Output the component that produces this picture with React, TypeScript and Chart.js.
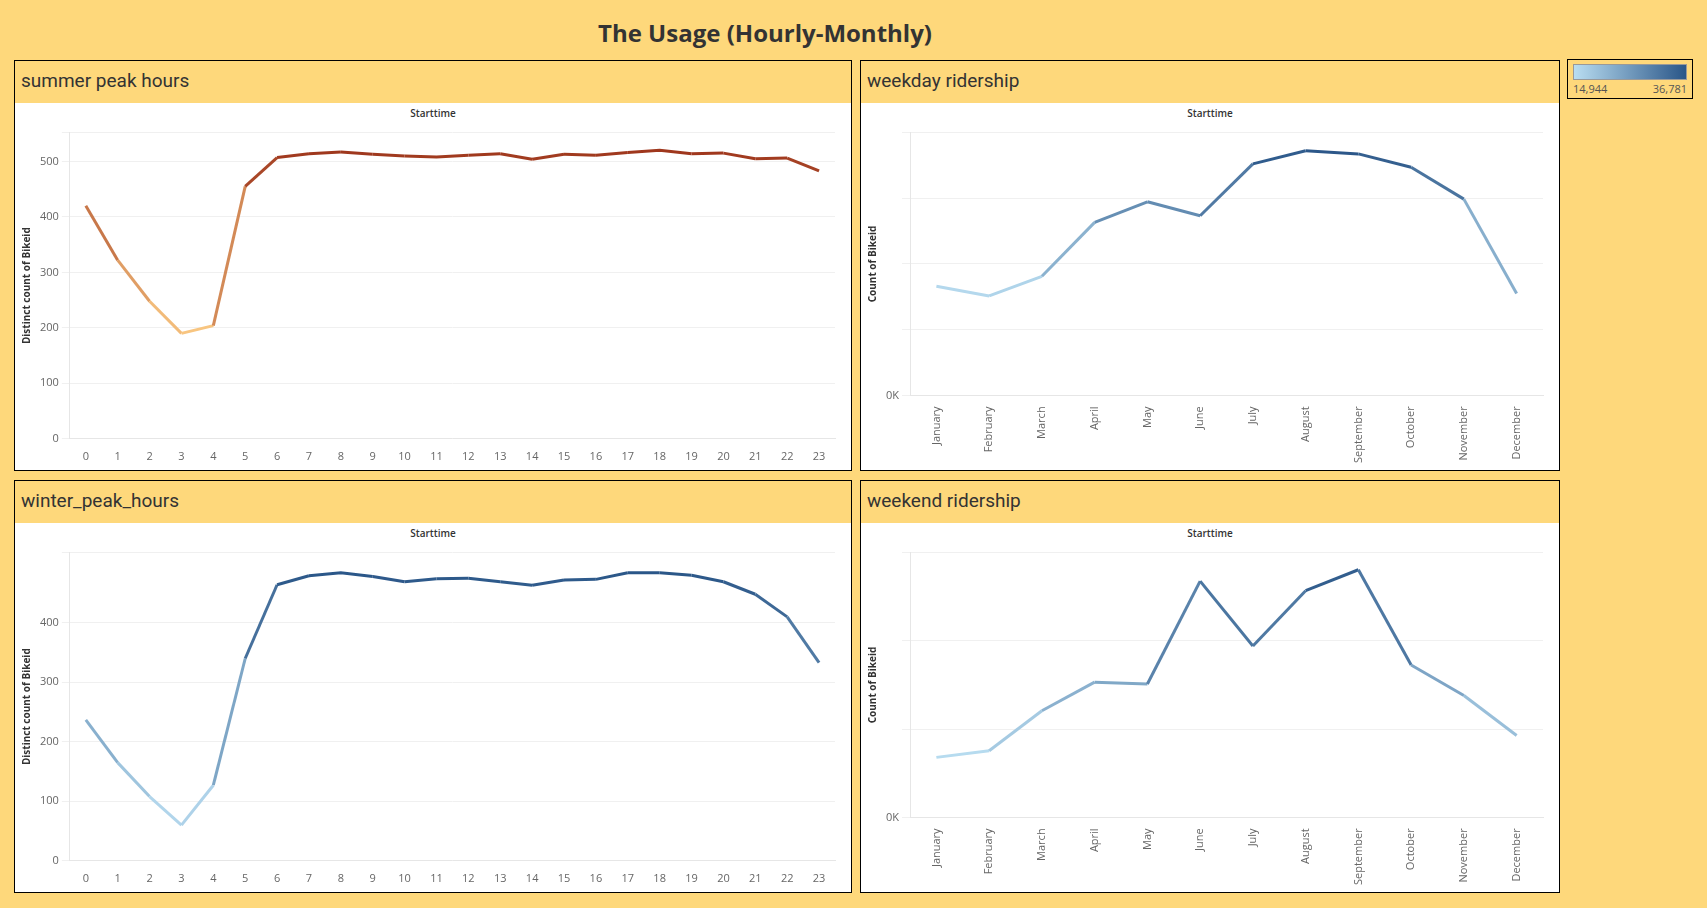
import React, { useEffect, useRef } from "react";
import Chart from "chart.js/auto";

const hours = Array.from({ length: 24 }, (_, i) => String(i));
const months = ["January", "February", "March", "April", "May", "June", "July", "August", "September", "October", "November", "December"];

const summerValues = [420, 322, 248, 190, 204, 455, 507, 514, 517, 513, 510, 508, 511, 514, 504, 513, 511, 516, 520, 514, 515, 505, 506, 483];
const winterValues = [237, 165, 108, 60, 127, 340, 464, 479, 484, 478, 469, 474, 475, 469, 463, 472, 473, 484, 484, 480, 469, 448, 410, 333];
const weekdayValues = [16400, 14944, 17900, 26000, 29100, 27000, 34800, 36781, 36300, 34300, 29500, 15300];
const weekendValues = [3150, 3500, 5600, 7100, 7000, 12400, 9000, 11900, 13000, 8000, 6400, 4300];

const ORANGE: [number[], number[]] = [[250, 200, 130], [158, 54, 28]];
const BLUE: [number[], number[]] = [[185, 221, 241], [42, 86, 136]];

function mix(ramp: [number[], number[]], t: number) {
  const c = ramp[0].map((a, i) => Math.round(a + (ramp[1][i] - a) * Math.max(0, Math.min(1, t))));
  return `rgb(${c[0]},${c[1]},${c[2]})`;
}

interface PanelProps {
  title: string;
  labels: string[];
  values: number[];
  ramp: [number[], number[]];
  yMax: number;
  step: number;
  yTitle: string;
  kTicks?: boolean;
  rotate?: boolean;
  style: React.CSSProperties;
}

const Panel: React.FC<PanelProps> = ({ title, labels, values, ramp, yMax, step, yTitle, kTicks, rotate, style }) => {
  const ref = useRef<HTMLCanvasElement | null>(null);
  useEffect(() => {
    if (!ref.current) return;
    const lo = Math.min(...values);
    const hi = Math.max(...values);
    const col = (v: number) => mix(ramp, (v - lo) / (hi - lo));
    const chart = new Chart(ref.current, {
      type: "line",
      data: {
        labels,
        datasets: [
          {
            data: values,
            borderWidth: 3,
            pointRadius: 0,
            tension: 0,
            segment: {
              borderColor: (ctx: any) => col((ctx.p0.parsed.y + ctx.p1.parsed.y) / 2),
            },
          },
        ],
      },
      options: {
        animation: false,
        responsive: true,
        maintainAspectRatio: false,
        plugins: { legend: { display: false }, tooltip: { enabled: false } },
        layout: { padding: { top: 4, right: 14 } },
        scales: {
          x: {
            offset: true,
            grid: { display: false },
            border: { color: "#e6e6e6" },
            ticks: {
              color: "#666",
              font: { family: "Open Sans", size: 11 },
              maxRotation: rotate ? 90 : 0,
              minRotation: rotate ? 90 : 0,
              autoSkip: false,
            },
          },
          y: {
            min: 0,
            max: yMax,
            grid: { color: "#f0f0f0" },
            border: { color: "#e6e6e6" },
            title: { display: true, text: yTitle, color: "#333", font: { family: "Open Sans", size: 10, weight: "bold" } },
            ticks: {
              stepSize: step,
              color: "#666",
              font: { family: "Open Sans", size: 11 },
              callback: (v: any) => (Number(v) % step !== 0 ? "" : kTicks ? `${Number(v) / 1000}K` : String(v)),
            },
          },
        },
      },
    });
    return () => chart.destroy();
  }, []);
  return (
    <div style={{ position: "absolute", border: "1.5px solid #000", background: "#fff", boxSizing: "border-box", ...style }}>
      <div style={{ height: 42, background: "#fed87b", fontFamily: "Roboto", fontSize: 19, color: "#333", padding: "8px 0 0 6px", boxSizing: "border-box" }}>
        {title}
      </div>
      <div style={{ textAlign: "center", fontFamily: "Open Sans", fontSize: 10, fontWeight: 600, color: "#333", height: 18, lineHeight: "20px" }}>
        Starttime
      </div>
      <div style={{ position: "absolute", top: 62, left: 2, right: 2, bottom: 4 }}>
        <canvas ref={ref} />
      </div>
    </div>
  );
};

export default function App() {
  return (
    <div style={{ position: "absolute", left: 0, top: 0, width: 1707, height: 908, background: "#fed87b" }}>
      <div style={{ position: "absolute", top: 16, width: 1530, textAlign: "center", fontFamily: "Open Sans", fontWeight: 700, fontSize: 24, color: "#333" }}>
        The Usage (Hourly-Monthly)
      </div>
      <Panel title="summer peak hours" labels={hours} values={summerValues} ramp={ORANGE} yMax={552} step={100} yTitle="Distinct count of Bikeid" style={{ left: 14, top: 60, width: 838, height: 411 }} />
      <Panel title="weekday ridership" labels={months} values={weekdayValues} ramp={BLUE} yMax={39500} step={10000} yTitle="Count of Bikeid" kTicks rotate style={{ left: 860, top: 60, width: 700, height: 411 }} />
      <Panel title="winter_peak_hours" labels={hours} values={winterValues} ramp={BLUE} yMax={518} step={100} yTitle="Distinct count of Bikeid" style={{ left: 14, top: 480, width: 838, height: 413 }} />
      <Panel title="weekend ridership" labels={months} values={weekendValues} ramp={BLUE} yMax={13900} step={5000} yTitle="Count of Bikeid" kTicks rotate style={{ left: 860, top: 480, width: 700, height: 413 }} />
      <div style={{ position: "absolute", left: 1567, top: 59, width: 126, height: 40, border: "1.5px solid #000", boxSizing: "border-box" }}>
        <div style={{ margin: "4px 5px 0", height: 14, border: "1px solid #999", background: "linear-gradient(to right, #b9ddf1, #2a5688)" }} />
        <div style={{ display: "flex", justifyContent: "space-between", margin: "1px 5px", fontFamily: "Open Sans", fontSize: 11, color: "#555" }}>
          <span>14,944</span>
          <span>36,781</span>
        </div>
      </div>
    </div>
  );
}
